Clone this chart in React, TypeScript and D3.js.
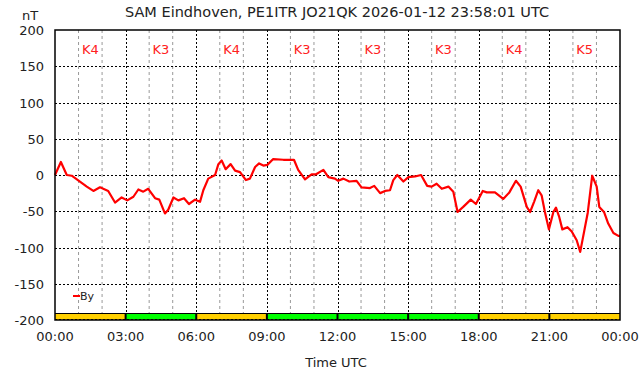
import React from "react";
import * as d3 from "d3";

const hours = [0,0.25,0.5,0.71,1.06,1.35,1.63,1.91,2.26,2.55,2.83,3.07,3.33,3.54,3.75,3.96,4.25,4.43,4.67,4.81,5.03,5.24,5.48,5.69,5.95,6.16,6.3,6.51,6.8,6.94,7.08,7.25,7.46,7.65,7.86,8.11,8.28,8.5,8.67,8.85,9.02,9.27,9.7,10.15,10.33,10.62,10.9,11.09,11.4,11.61,11.89,12.03,12.25,12.5,12.81,13.02,13.38,13.56,13.81,14.02,14.23,14.37,14.54,14.8,15.01,15.29,15.55,15.81,16.0,16.21,16.43,16.71,16.92,17.1,17.34,17.66,17.88,18.17,18.34,18.69,19.04,19.3,19.58,19.78,20.04,20.18,20.35,20.53,20.67,20.81,20.98,21.17,21.28,21.41,21.55,21.77,21.95,22.16,22.31,22.63,22.82,23.01,23.12,23.32,23.5,23.72,23.93,24.0];
const byValues = [0,18,0,-1,-9,-16,-22,-17,-22,-38,-31,-35,-30,-20,-23,-19,-32,-34,-53,-48,-31,-35,-32,-40,-34,-37,-21,-5,0,15,20,8,15,6,4,-7,-5,11,16,13,14,22,21,21,7,-6,1,1,7,-3,-5,-8,-5,-9,-8,-17,-18,-15,-25,-22,-21,-7,0,-9,-3,-2,0,-15,-16,-12,-19,-16,-23,-51,-44,-34,-40,-22,-24,-24,-33,-24,-8,-16,-44,-51,-37,-21,-28,-51,-75,-51,-45,-57,-75,-72,-78,-90,-106,-52,-1,-16,-44,-51,-67,-80,-84,-84];

const kIndex = ["K4","K3","K4","K3","K3","K3","K4","K5"];
const kColors = ["#ffd000","#00ff00","#ffd000","#00ff00","#00ff00","#00ff00","#ffd000","#ffd000"];
const xTickLabels = ["00:00","03:00","06:00","09:00","12:00","15:00","18:00","21:00","00:00"];
const yTicks = [-200,-150,-100,-50,0,50,100,150,200];
const title = "SAM Eindhoven, PE1ITR JO21QK 2026-01-12 23:58:01 UTC";

export default function App() {
  const W = 642, H = 376;
  const L = 55, R = 620, T = 30, B = 320;
  const x = d3.scaleLinear().domain([0, 24]).range([L, R]);
  const y = d3.scaleLinear().domain([-200, 200]).range([B, T]);
  const font = "DejaVu Sans, sans-serif";
  const line = d3.line<number>().x((_, i) => x(hours[i])).y((d) => y(d));
  const pts = byValues;
  const hourLines = d3.range(1, 24).filter((h) => h % 3 !== 0);
  const majorLines = d3.range(3, 24, 3);
  return (
    <svg width={W} height={H} style={{ position: "absolute", left: 0, top: 0, background: "#fff" }} fontFamily={font}>
      <rect x={0} y={0} width={W} height={H} fill="#fff" />
      <text x={337} y={17} textAnchor="middle" fontSize={14.5} fill="#222">{title}</text>
      <text x={30} y={20} textAnchor="middle" fontSize={13} fill="#222">nT</text>
      {hourLines.map((h) => (
        <line key={"h" + h} x1={x(h)} x2={x(h)} y1={T} y2={B} stroke="#999" strokeWidth={1} strokeDasharray="3,3" />
      ))}
      {majorLines.map((h) => (
        <line key={"m" + h} x1={Math.round(x(h)) + 0.5} x2={Math.round(x(h)) + 0.5} y1={T} y2={B} stroke="#000" strokeWidth={1} strokeDasharray="2,2" />
      ))}
      {yTicks.slice(1, -1).map((v) => (
        <line key={"y" + v} x1={L} x2={R} y1={Math.round(y(v)) + 0.5} y2={Math.round(y(v)) + 0.5} stroke="#000" strokeWidth={1} strokeDasharray="2,2" />
      ))}
      {kIndex.map((k, i) => (
        <text key={"k" + i} x={x(i * 3 + 1.5)} y={54} textAnchor="middle" fontSize={13} fill="#ff2020">{k}</text>
      ))}
      {kColors.map((c, i) => (
        <rect key={"b" + i} x={x(i * 3)} y={313} width={x(3) - x(0)} height={B - 313} fill={c} />
      ))}
      <line x1={L} x2={R} y1={313.5} y2={313.5} stroke="#000" strokeWidth={1} />
      {majorLines.map((h) => (
        <line key={"bs" + h} x1={x(h)} x2={x(h)} y1={313} y2={B} stroke="#000" strokeWidth={2} />
      ))}
      <line x1={L} x2={R} y1={B - 0.5} y2={B - 0.5} stroke="#000" strokeWidth={1} strokeDasharray="2,2" />
      <path d={line(pts) || ""} fill="none" stroke="#ff0000" strokeWidth={2.2} strokeLinejoin="round" />
      <rect x={L} y={T} width={R - L} height={B - T} fill="none" stroke="#000" strokeWidth={1.5} />
      {yTicks.map((v) => (
        <text key={"yt" + v} x={44} y={y(v) + 5} textAnchor="end" fontSize={13} fill="#222">{v}</text>
      ))}
      {xTickLabels.map((t, i) => (
        <text key={"xt" + i} x={x(i * 3)} y={341} textAnchor="middle" fontSize={13} fill="#222">{t}</text>
      ))}
      <text x={336} y={367} textAnchor="middle" fontSize={13} fill="#222">Time UTC</text>
      <line x1={73} x2={80} y1={296} y2={296} stroke="#ff0000" strokeWidth={2} />
      <text x={80} y={300} fontSize={11} fill="#222">By</text>
    </svg>
  );
}
